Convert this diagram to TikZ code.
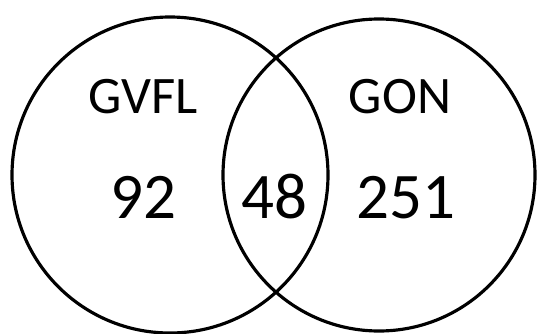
\documentclass[tikz,border=0pt]{standalone}
\usepackage{fontspec}
\setmainfont{Carlito}
\usepackage{tikz}

\begin{document}
\begin{tikzpicture}[venn/.style={circle,draw,line width=1.8pt,inner sep=0pt},
    setname/.style={anchor=base,font=\fontsize{30}{32}\selectfont},
    setcount/.style={anchor=base,font=\fontsize{37}{40}\selectfont}]
    \useasboundingbox (0,0) rectangle (10.74,6.66);
    \node[venn,minimum size=6.32cm] (gvfl) at (3.40,3.16) {};
    \node[venn,minimum size=6.24cm] (gon) at (7.58,3.16) {};
    \node[setname] (gvfllabel) at (2.87,4.40) {GVFL};
    \node[setname] (gonlabel) at (8.00,4.40) {GON};
    \node[setcount] (only1) at (2.86,2.30) {92};
    \node[setcount] (both) at (5.48,2.30) {48};
    \node[setcount] (only2) at (8.12,2.30) {251};
  \end{tikzpicture}
\end{document}
